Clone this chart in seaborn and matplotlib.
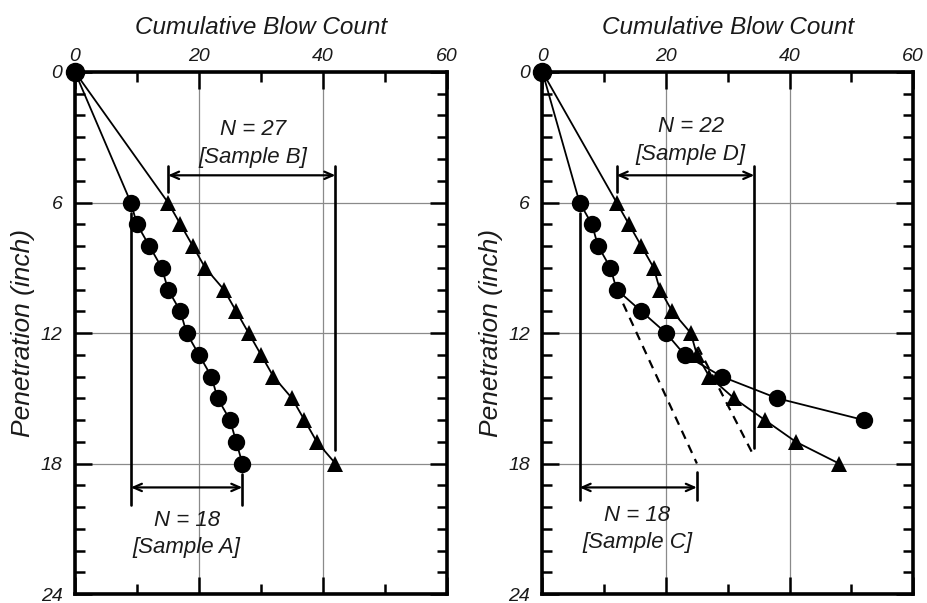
import matplotlib
matplotlib.use("Agg")
import matplotlib.pyplot as plt
import seaborn as sns
import pandas as pd
from matplotlib.ticker import MultipleLocator

# ---------------- data ----------------
pen_full = [0, 6, 7, 8, 9, 10, 11, 12, 13, 14, 15, 16, 17, 18]
blows_A = [0, 9, 10, 12, 14, 15, 17, 18, 20, 22, 23, 25, 26, 27]
blows_B = [0, 15, 17, 19, 21, 24, 26, 28, 30, 32, 35, 37, 39, 42]
pen_C = [0, 6, 7, 8, 9, 10, 11, 12, 13, 14, 15, 16]
blows_C = [0, 6, 8, 9, 11, 12, 16, 20, 23, 29, 38, 52]
blows_D = [0, 12, 14, 16, 18, 19, 21, 24, 25, 27, 31, 36, 41, 48]
x_ticks = [0, 20, 40, 60]
y_ticks = [0, 6, 12, 18, 24]

sns.set_theme(style="white")
plt.rcParams["font.family"] = ["Liberation Sans", "DejaVu Sans"]
plt.rcParams["font.style"] = "italic"
plt.rcParams["text.color"] = "#1a1a1a"
plt.rcParams["axes.labelcolor"] = "#1a1a1a"
plt.rcParams["xtick.color"] = "black"
plt.rcParams["ytick.color"] = "black"
plt.rcParams["xtick.labelcolor"] = "#1a1a1a"
plt.rcParams["ytick.labelcolor"] = "#1a1a1a"

fig = plt.figure(figsize=(9.27, 6.03), dpi=100)
ax1 = fig.add_axes([0.0809, 0.0149, 0.4013, 0.8657])
ax2 = fig.add_axes([0.5852, 0.0149, 0.3998, 0.8657])

def style_axes(ax):
    ax.set_xlim(0, 60)
    ax.set_ylim(24, 0)
    ax.xaxis.set_major_locator(MultipleLocator(20))
    ax.xaxis.set_minor_locator(MultipleLocator(10))
    ax.yaxis.set_major_locator(MultipleLocator(6))
    ax.yaxis.set_minor_locator(MultipleLocator(1))
    ax.set_xticks(x_ticks)
    ax.set_yticks(y_ticks)
    ax.grid(True, which="major", color="#8a8a8a", lw=0.9, zorder=0)
    ax.set_axisbelow(True)
    for s in ax.spines.values():
        s.set_linewidth(2.6)
        s.set_color("black")
        s.set_zorder(5)
    ax.xaxis.set_label_position("top")
    ax.tick_params(which="both", direction="in", top=True, bottom=True,
                   left=True, right=True, labeltop=True, labelbottom=False,
                   labelleft=True, labelright=False, color="black", width=1.8)
    ax.tick_params(which="major", length=12, labelsize=14)
    ax.tick_params(axis="x", which="major", pad=5)
    ax.tick_params(axis="y", which="major", pad=9)
    ax.tick_params(which="minor", length=7)
    for lab in ax.get_xticklabels() + ax.get_yticklabels():
        lab.set_fontstyle("italic")
    ax.set_xlabel("Cumulative Blow Count", fontsize=17.5, labelpad=10, fontstyle="italic")
    ax.set_ylabel("Penetration (inch)", fontsize=19, labelpad=4, fontstyle="italic")

def series(ax, x, y, marker, ms):
    sns.lineplot(x=x, y=y, ax=ax, sort=False, estimator=None, color="black",
                 lw=1.3, marker=marker, markersize=ms, markeredgewidth=0,
                 markevery=list(range(1, len(x))), clip_on=False, zorder=6)

def dim_arrow(ax, x0, x1, y):
    ax.annotate("", xy=(x1, y), xytext=(x0, y),
                arrowprops=dict(arrowstyle="<->,head_length=0.5,head_width=0.22",
                                lw=1.6, color="black", shrinkA=0, shrinkB=0))

def vline(ax, x, y0, y1):
    ax.plot([x, x], [y0, y1], color="black", lw=1.9, zorder=4)

def txt(ax, x, y, s):
    ax.text(x, y, s, ha="center", va="center", fontsize=16, fontstyle="italic")

for ax in (ax1, ax2):
    style_axes(ax)

# ---- left panel ----
series(ax1, blows_B, pen_full, "^", 11.5)
series(ax1, blows_A, pen_full, "o", 12.5)
ax1.plot([0], [0], marker="o", ms=13, color="black", clip_on=False, zorder=7)
vline(ax1, 15, 4.3, 5.5)
vline(ax1, 42, 4.3, 17.4)
dim_arrow(ax1, 15, 42, 4.75)
txt(ax1, 28.7, 2.66, "N = 27")
txt(ax1, 28.7, 3.95, "[Sample B]")
vline(ax1, 9, 6.5, 19.9)
vline(ax1, 27, 18.5, 19.9)
dim_arrow(ax1, 9, 27, 19.1)
txt(ax1, 18.0, 20.6, "N = 18")
txt(ax1, 18.0, 21.85, "[Sample A]")

# ---- right panel ----
ax2.plot([12, 25], [10, 18], color="black", lw=1.6, ls=(0, (4, 3)), zorder=3)
ax2.plot([24, 34.3], [12, 17.7], color="black", lw=1.6, ls=(0, (4, 3)), zorder=3)
series(ax2, blows_D, pen_full, "^", 11.5)
series(ax2, blows_C, pen_C, "o", 12.5)
ax2.plot([0], [0], marker="o", ms=13, color="black", clip_on=False, zorder=7)
vline(ax2, 12, 4.3, 5.5)
vline(ax2, 34.3, 4.3, 17.3)
dim_arrow(ax2, 12, 34.3, 4.75)
txt(ax2, 24.0, 2.5, "N = 22")
txt(ax2, 24.0, 3.78, "[Sample D]")
vline(ax2, 6, 6.5, 19.7)
vline(ax2, 25, 18.4, 19.7)
dim_arrow(ax2, 6, 25, 19.1)
txt(ax2, 15.3, 20.4, "N = 18")
txt(ax2, 15.3, 21.65, "[Sample C]")

fig.savefig("out.png", dpi=100)
